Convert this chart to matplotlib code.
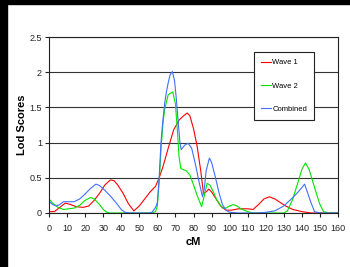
import matplotlib.pyplot as plt
from matplotlib.patches import Rectangle

plt.rcParams['font.family'] = ['Liberation Sans', 'DejaVu Sans']

# Wave 1
wave1_cm = [0, 3, 6, 9, 12, 15, 19, 22, 25, 28, 31, 34, 36, 38, 41, 44, 47, 50, 53, 56,
            59, 61, 63, 66, 69, 72, 74.5, 76.5, 78, 80, 82, 84, 85.5, 87, 88.5, 90, 92, 95,
            98, 101, 105, 110, 113, 116, 119, 122, 125, 128, 131, 135, 140, 145, 150, 155, 160]
wave1_lod = [0.02, 0.02, 0.08, 0.14, 0.12, 0.09, 0.08, 0.1, 0.18, 0.28, 0.4, 0.47, 0.46, 0.4,
             0.28, 0.13, 0.03, 0.1, 0.2, 0.3, 0.38, 0.5, 0.65, 0.92, 1.18, 1.32, 1.38, 1.42,
             1.38, 1.2, 0.95, 0.6, 0.28, 0.3, 0.34, 0.3, 0.22, 0.1, 0.04, 0.04, 0.06, 0.06,
             0.05, 0.12, 0.2, 0.23, 0.2, 0.15, 0.1, 0.05, 0.02, 0.0, 0.0, 0.0, 0.0]

# Wave 2
wave2_cm = [0, 2, 5, 8, 11, 14, 17, 20, 23, 25, 28, 30, 32, 34, 40, 50, 57, 59, 60, 61, 62,
            63, 64, 66, 68.5, 70, 71, 72, 73, 76, 78, 80, 82, 84.5, 86, 87.5, 89, 91, 93, 96,
            98, 100, 102, 104, 107, 110, 113, 120, 130, 132, 135, 138, 140, 142, 144, 146,
            148, 150, 152, 155, 160]
wave2_lod = [0.2, 0.14, 0.08, 0.05, 0.06, 0.07, 0.11, 0.18, 0.22, 0.2, 0.12, 0.05, 0.01, 0,
             0, 0, 0, 0.02, 0.1, 0.45, 0.9, 1.25, 1.47, 1.68, 1.72, 1.55, 1.2, 0.8, 0.63,
             0.6, 0.54, 0.4, 0.25, 0.09, 0.25, 0.42, 0.4, 0.3, 0.18, 0.07, 0.07, 0.1, 0.12,
             0.1, 0.05, 0.02, 0, 0, 0, 0.03, 0.2, 0.45, 0.62, 0.71, 0.62, 0.45, 0.28, 0.12,
             0.02, 0, 0]

# Combined
comb_cm = [0, 2, 4, 6, 8, 11, 14, 17, 20, 23, 26, 28, 31, 34, 37, 40, 42, 45, 50, 55, 57,
           59, 60, 61, 62, 63, 64, 65, 66, 67, 68.3, 69.5, 70.5, 71.5, 72.5, 73.2, 75, 77,
           79, 81, 83, 85, 86, 87, 88.8, 90, 92, 94, 96, 98, 100, 105, 110, 115, 120, 125,
           130, 135, 138, 141.5, 143, 145, 147, 150, 155, 160]
comb_lod = [0.17, 0.12, 0.1, 0.12, 0.16, 0.16, 0.16, 0.2, 0.27, 0.35, 0.41, 0.39, 0.32, 0.24,
            0.15, 0.05, 0.01, 0, 0, 0, 0.01, 0.08, 0.15, 0.5, 1.0, 1.3, 1.55, 1.72, 1.85,
            1.96, 2.01, 1.88, 1.62, 1.3, 1.0, 0.9, 0.96, 0.99, 0.92, 0.7, 0.45, 0.23, 0.35,
            0.6, 0.78, 0.72, 0.52, 0.3, 0.12, 0.04, 0.01, 0, 0, 0, 0.01, 0.03, 0.1, 0.22,
            0.3, 0.41, 0.3, 0.15, 0.02, 0, 0, 0]

y_ticks = [0, 0.5, 1, 1.5, 2, 2.5]
y_labels = ["0", "0.5", "1", "1.5", "2", "2.5"]
x_ticks = list(range(0, 161, 10))

fig = plt.figure(figsize=(3.5, 2.67), dpi=100)
fig.patches.append(Rectangle((0, 0), 7 / 350, 1, transform=fig.transFigure,
                             color='black', zorder=0))
fig.patches.append(Rectangle((0, 1 - 4 / 267), 1, 4 / 267, transform=fig.transFigure,
                             color='black', zorder=0))

ax = fig.add_axes([49 / 350, 54 / 267, 289 / 350, 176 / 267])
ax.plot(wave1_cm, wave1_lod, color='#ff0000', lw=0.8, label='Wave 1')
ax.plot(wave2_cm, wave2_lod, color='#00e600', lw=0.8, label='Wave 2')
ax.plot(comb_cm, comb_lod, color='#3f6fff', lw=0.8, label='Combined')

ax.set_xlim(0, 160)
ax.set_ylim(0, 2.5)
ax.set_xticks(x_ticks)
ax.set_yticks(y_ticks)
ax.set_yticklabels(y_labels)
ax.yaxis.grid(True, color='#333333', lw=0.8)
ax.set_axisbelow(True)
for s in ax.spines.values():
    s.set_color('#222222')
    s.set_linewidth(0.8)
ax.tick_params(labelsize=6.5, length=3, width=0.8, pad=2, colors='#222222')
ax.tick_params(axis='x', pad=5)

ax.set_xlabel('cM', fontsize=8, fontweight='bold', labelpad=3)
ax.set_ylabel('Lod Scores', fontsize=8, fontweight='bold', labelpad=2)

leg = ax.legend(loc='upper left', bbox_to_anchor=(0.709, 0.915), fontsize=5.5,
                frameon=True, fancybox=False, framealpha=1, edgecolor='#222222',
                handlelength=1.3, handletextpad=0.2, labelspacing=2.1,
                borderpad=0.9, borderaxespad=0)
leg.get_frame().set_linewidth(0.8)

fig.savefig('out.png', dpi=100)
